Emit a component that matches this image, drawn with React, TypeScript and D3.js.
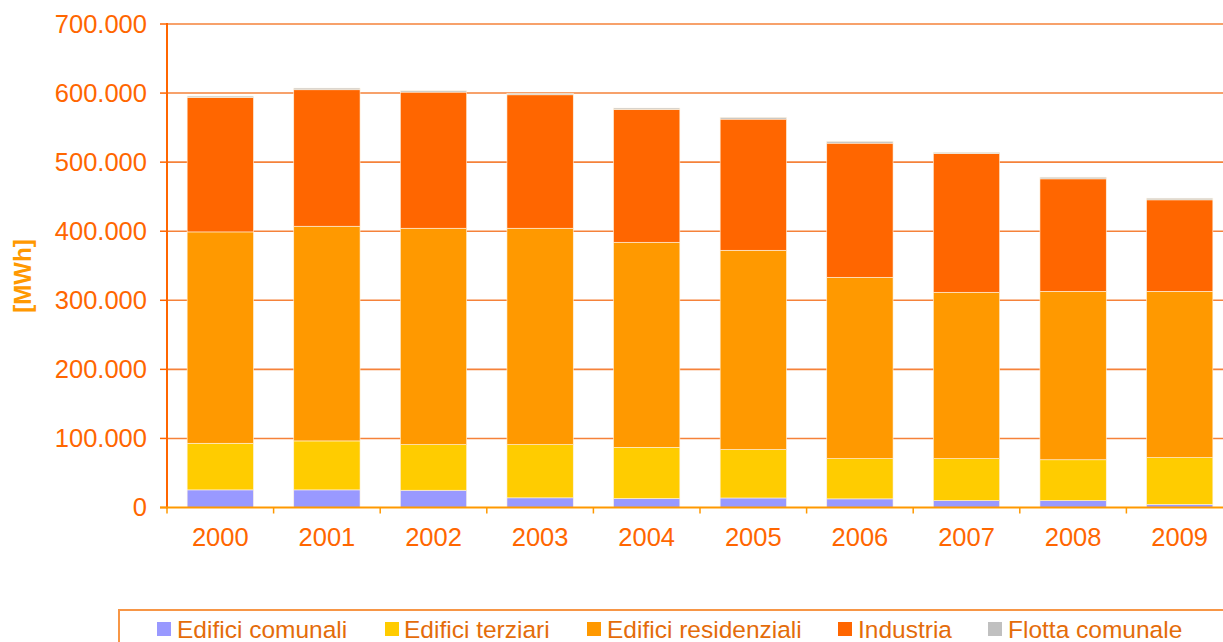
import React from "react";
import * as d3 from "d3";

const years = ["2000", "2001", "2002", "2003", "2004", "2005", "2006", "2007", "2008", "2009"];
const edificiComunali = [25500, 25500, 25000, 14000, 13000, 13800, 12500, 10000, 10000, 4500];
const edificiTerziari = [67500, 70900, 66000, 77000, 74100, 70100, 58200, 60700, 59100, 67700];
const edificiResidenziali = [306000, 310800, 313300, 313300, 296900, 288500, 262600, 240900, 243900, 240800];
const industria = [194700, 197600, 197100, 193200, 192400, 189900, 194200, 200700, 162800, 132400];
const flottaComunale = [1900, 2400, 1900, 2000, 1900, 2400, 2500, 1900, 2400, 2400];
const yTicks = [0, 100000, 200000, 300000, 400000, 500000, 600000, 700000];

const seriesNames = ["Edifici comunali", "Edifici terziari", "Edifici residenziali", "Industria", "Flotta comunale"];
const seriesColors = ["#9999FF", "#FFCC00", "#FF9900", "#FF6600", "#C0C0C0"];

const W = 1223;
const H = 642;
const left = 167;
const right = 1233;
const top = 24;
const bottom = 507.5;
const font = "Liberation Sans, Arial, sans-serif";

const itFormat = d3.formatLocale({ decimal: ",", thousands: ".", grouping: [3], currency: ["", "€"] }).format(",");

export default function App() {
  const rows = years.map((y, i) => ({
    year: y,
    c: edificiComunali[i],
    t: edificiTerziari[i],
    r: edificiResidenziali[i],
    ind: industria[i],
    f: flottaComunale[i],
  }));
  const keys = ["c", "t", "r", "ind", "f"];
  const stacked = d3.stack<any>().keys(keys)(rows as any);

  const x = d3.scaleBand<string>().domain(years).range([left, right]).padding(0);
  const y = d3.scaleLinear().domain([0, 700000]).range([bottom, top]);
  const barW = x.bandwidth() * 0.622;

  const legendItems = [
    { marker: 157, text: 177 },
    { marker: 385, text: 404 },
    { marker: 587, text: 607 },
    { marker: 838, text: 858 },
    { marker: 988, text: 1008 },
  ];

  return (
    <svg width={W} height={H} style={{ position: "absolute", left: 0, top: 0, display: "block" }} fontFamily={font}>
      <rect x={0} y={0} width={W} height={H} fill="#fff" />
      {yTicks.filter((t) => t > 0).map((t) => (
        <line key={t} x1={left} x2={W} y1={y(t)} y2={y(t)} stroke="#F5823A" strokeWidth={1.6} />
      ))}
      {stacked.map((s, si) => (
        <g key={si} fill={seriesColors[si]}>
          {s.map((d, i) => (
            <rect
              key={i}
              x={(x(years[i]) as number) + (x.bandwidth() - barW) / 2}
              y={y(d[1])}
              width={barW}
              height={Math.max(0, y(d[0]) - y(d[1]))}
              stroke="#FFF3E0"
              strokeWidth={0.6}
            />
          ))}
        </g>
      ))}
      <line x1={left} x2={left} y1={top - 1} y2={bottom + 1} stroke="#FF6600" strokeWidth={2} />
      {yTicks.map((t) => (
        <g key={t}>
          <line x1={left - 7} x2={left} y1={y(t)} y2={y(t)} stroke="#FF6600" strokeWidth={1.5} />
          <text x={147} y={y(t)} dy="0.35em" textAnchor="end" fontSize={25.5} fill="#FF6600">
            {itFormat(t)}
          </text>
        </g>
      ))}
      <line x1={left - 7} x2={W} y1={bottom} y2={bottom} stroke="#FF9900" strokeWidth={2} />
      {years.map((yr, i) => (
        <line key={"t" + i} x1={x(yr) as number} x2={x(yr) as number} y1={bottom} y2={bottom + 6} stroke="#FF9900" strokeWidth={1.5} />
      ))}
      {years.map((yr) => (
        <text key={yr} x={(x(yr) as number) + x.bandwidth() / 2} y={546} textAnchor="middle" fontSize={25.5} fill="#FF6600">
          {yr}
        </text>
      ))}
      <text transform={`translate(31,276) rotate(-90)`} textAnchor="middle" fontSize={24} fontWeight="bold" fill="#FF9900">
        [MWh]
      </text>
      <rect x={119} y={610} width={1120} height={60} fill="#fff" stroke="#F79646" strokeWidth={2} />
      {seriesNames.map((n, i) => (
        <g key={n}>
          <rect x={legendItems[i].marker} y={622} width={14} height={14} fill={seriesColors[i]} />
          <text x={legendItems[i].text} y={638} fontSize={24.5} fill="#E46C0A">
            {n}
          </text>
        </g>
      ))}
    </svg>
  );
}
